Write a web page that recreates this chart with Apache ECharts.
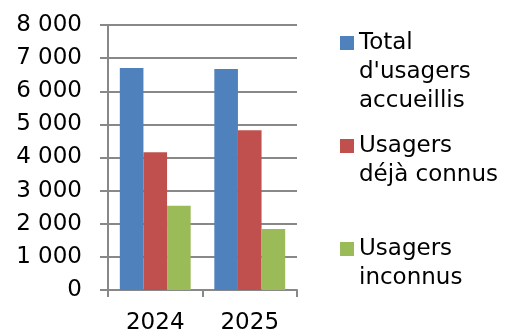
<!DOCTYPE html>
<html>
<head>
<meta charset="utf-8">
<style>
html,body{margin:0;padding:0;background:#fff;}
#chart{width:507px;height:331px;}
</style>
<script src="https://cdn.jsdelivr.net/npm/echarts@6/dist/echarts.min.js"></script>
</head>
<body>
<div id="chart"></div>
<script>
var categories = ['2024', '2025'];
var seriesNames = ["Total\nd'usagers\naccueillis", "Usagers\ndéjà connus", "Usagers\ninconnus"];
var totalUsagers = [6700, 6670];
var usagersConnus = [4160, 4820];
var usagersInconnus = [2540, 1840];
var yTicks = [0, 1000, 2000, 3000, 4000, 5000, 6000, 7000, 8000];

var colors = ['#4F81BD', '#C0504D', '#9BBB59'];
var font = '"DejaVu Sans", Verdana, sans-serif';
var gridColor = '#888888';

function fmt(v) {
  return String(v).replace(/\B(?=(\d{3})+(?!\d))/g, ' ');
}

function legendFor(i, top) {
  return {
    orient: 'vertical',
    left: 340,
    top: top,
    padding: 0,
    itemWidth: 14,
    itemHeight: 14,
    icon: 'rect',
    selectedMode: false,
    data: [seriesNames[i]],
    formatter: function (name) {
      var n = name.split('\n').length;
      return new Array(n).join('\n') + name;
    },
    textStyle: {
      fontFamily: font,
      fontSize: 23,
      color: '#000',
      lineHeight: 29
    }
  };
}

var chart = echarts.init(document.getElementById('chart'));
chart.setOption({
  animation: false,
  color: colors,
  grid: { left: 108, right: 210, top: 25, bottom: 41, containLabel: false, outerBoundsMode: 'none' },
  legend: [
    legendFor(0, -29.5),
    legendFor(1, 102.5),
    legendFor(2, 205.5)
  ],
  xAxis: {
    type: 'category',
    data: categories,
    axisLine: { show: true, lineStyle: { color: gridColor, width: 2 } },
    axisTick: { show: true, length: 7, lineStyle: { color: gridColor, width: 2 } },
    axisLabel: { fontFamily: font, fontSize: 23, color: '#000', margin: 22 }
  },
  yAxis: {
    type: 'value',
    min: yTicks[0],
    max: yTicks[yTicks.length - 1],
    interval: yTicks[1] - yTicks[0],
    axisLine: { show: true, lineStyle: { color: gridColor, width: 2 } },
    axisTick: { show: true, length: 8, lineStyle: { color: gridColor, width: 2 } },
    splitLine: { show: true, lineStyle: { color: gridColor, width: 2 } },
    axisLabel: { fontFamily: font, fontSize: 23, color: '#000', margin: 26, formatter: fmt }
  },
  series: [
    { name: seriesNames[0], type: 'bar', data: totalUsagers, barGap: '0%', barCategoryGap: '25%' },
    { name: seriesNames[1], type: 'bar', data: usagersConnus, barGap: '0%', barCategoryGap: '25%' },
    { name: seriesNames[2], type: 'bar', data: usagersInconnus, barGap: '0%', barCategoryGap: '25%' }
  ]
});
</script>
</body>
</html>
